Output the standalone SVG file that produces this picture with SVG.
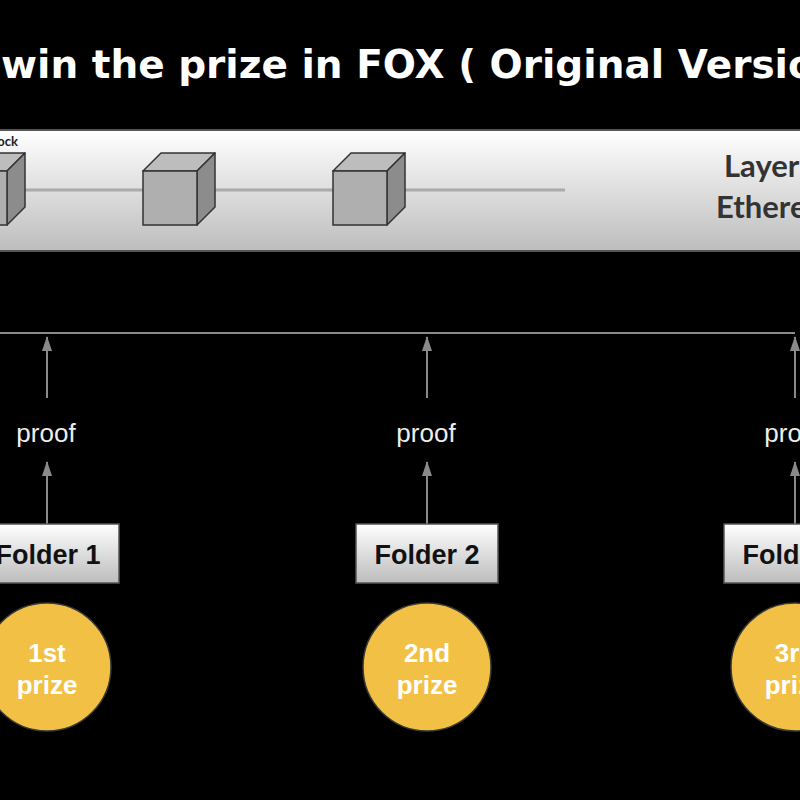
<svg xmlns="http://www.w3.org/2000/svg" width="800" height="800" viewBox="0 0 800 800">
<defs>
<linearGradient id="panelGrad" x1="0" y1="0" x2="0" y2="1">
<stop offset="0" stop-color="#ffffff"/>
<stop offset="1" stop-color="#bdbdbd"/>
</linearGradient>
<linearGradient id="folderGrad" x1="0" y1="0" x2="0" y2="1">
<stop offset="0" stop-color="#ffffff"/>
<stop offset="1" stop-color="#bcbcbc"/>
</linearGradient>
<marker id="arrow" viewBox="0 0 15 10" refX="14" refY="5" markerWidth="15" markerHeight="10" markerUnits="userSpaceOnUse" orient="auto">
<path d="M0,0 L15,5 L0,10 Z" fill="#8a8a8a"/>
</marker>
<g id="cube">
<path d="M0,18 L18,0 L72,0 L54,18 Z" fill="#bdbdbd" stroke="#333" stroke-width="1.5" stroke-linejoin="round"/>
<path d="M54,18 L72,0 L72,54 L54,72 Z" fill="#8c8c8c" stroke="#333" stroke-width="1.5" stroke-linejoin="round"/>
<rect x="0" y="18" width="54" height="54" fill="#afafaf" stroke="#333" stroke-width="1.5"/>
</g>
</defs>
<style>
.title{font-family:"DejaVu Sans",sans-serif;font-weight:bold;font-size:39px;fill:#ffffff}
.layer{font-family:Lato,"Open Sans",sans-serif;font-weight:bold;font-size:31px;fill:#333333}
.blk{font-family:Lato,"Open Sans",sans-serif;font-weight:bold;font-size:13px;fill:#222222}
.proof{font-family:"Liberation Sans",Arial,sans-serif;font-size:26px;fill:#eeeeee;text-anchor:middle}
.folder rect{fill:url(#folderGrad);stroke:#555555;stroke-width:1.5}
.folder text{font-family:"Liberation Sans",Arial,sans-serif;font-weight:bold;font-size:27px;fill:#111111;text-anchor:middle}
.prize circle{fill:#f2c044;stroke:#3a3a3a;stroke-width:1.5}
.prize text{font-family:"Liberation Sans",Arial,sans-serif;font-weight:bold;font-size:26px;fill:#ffffff;text-anchor:middle}
.conn{stroke:#8a8a8a;stroke-width:2;fill:none}
</style>
<rect x="0" y="0" width="800" height="800" fill="#000000"/>
<text class="title" x="1" y="78">win the prize in FOX ( Original Version )</text>

<g id="layer1">
<rect x="-20" y="130" width="840" height="121" fill="url(#panelGrad)" stroke="#555555" stroke-width="2"/>
<line x1="25" y1="190" x2="565" y2="190" stroke="#aaaaaa" stroke-width="3"/>
<text class="blk" x="18" y="146" text-anchor="end">Block</text>
<use href="#cube" x="-47" y="153"/>
<use href="#cube" x="143" y="153"/>
<use href="#cube" x="333" y="153"/>
<text class="layer" x="724" y="177">Layer</text>
<text class="layer" x="716" y="218">Ethere</text>
</g>

<g id="connectors">
<line class="conn" x1="0" y1="333" x2="795" y2="333"/>
<line class="conn" x1="47" y1="398" x2="47" y2="337" marker-end="url(#arrow)"/>
<line class="conn" x1="427" y1="398" x2="427" y2="337" marker-end="url(#arrow)"/>
<line class="conn" x1="795" y1="398" x2="795" y2="337" marker-end="url(#arrow)"/>
<line class="conn" x1="47" y1="524" x2="47" y2="462" marker-end="url(#arrow)"/>
<line class="conn" x1="427" y1="524" x2="427" y2="462" marker-end="url(#arrow)"/>
<line class="conn" x1="795" y1="524" x2="795" y2="462" marker-end="url(#arrow)"/>
</g>

<g id="proof-labels">
<text class="proof" x="46" y="442">proof</text>
<text class="proof" x="426" y="442">proof</text>
<text class="proof" x="794" y="442">proof</text>
</g>

<g id="folder1" class="folder">
<rect x="-23" y="524" width="142" height="59"/>
<text x="48" y="564">Folder 1</text>
</g>
<g id="folder2" class="folder">
<rect x="356" y="524" width="142" height="59"/>
<text x="427" y="564">Folder 2</text>
</g>
<g id="folder3" class="folder">
<rect x="724" y="524" width="142" height="59"/>
<text x="795" y="564">Folder 3</text>
</g>

<g id="prize1" class="prize">
<circle cx="47" cy="667" r="64"/>
<text x="47" y="662">1st</text>
<text x="47" y="694">prize</text>
</g>
<g id="prize2" class="prize">
<circle cx="427" cy="667" r="64"/>
<text x="427" y="662">2nd</text>
<text x="427" y="694">prize</text>
</g>
<g id="prize3" class="prize">
<circle cx="795" cy="667" r="64"/>
<text x="795" y="662">3rd</text>
<text x="795" y="694">prize</text>
</g>
</svg>
